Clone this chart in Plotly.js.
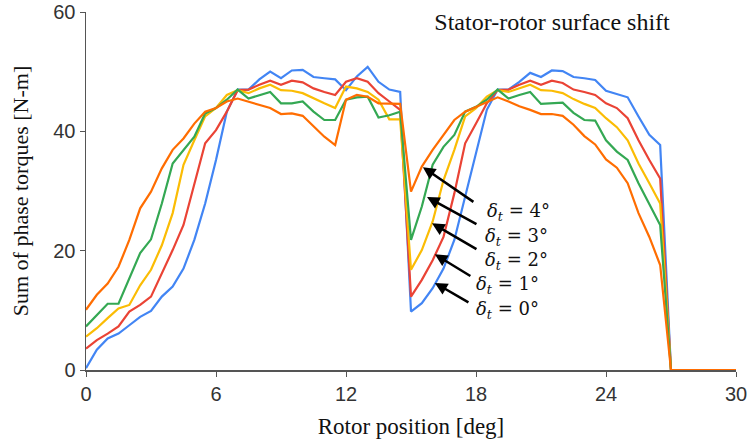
<!DOCTYPE html>
<html><head><meta charset="utf-8">
<script src="https://cdn.plot.ly/plotly-3.0.1.min.js"></script>
<style>body{margin:0;background:#fff}#c{width:751px;height:447px}</style>
</head><body><div id="c"></div>
<script>
const rotorPos = [0,0.5,1,1.5,2,2.5,3,3.5,4,4.5,5,5.5,6,6.5,7,7.5,8,8.5,9,9.5,10,10.5,11,11.5,12,12.5,13,13.5,14,14.5,15,15.5,16,16.5,17,17.5,18,18.5,19,19.5,20,20.5,21,21.5,22,22.5,23,23.5,24,24.5,25,25.5,26,26.5,27,27.5,28,28.5,29,29.5,30];
const torque0 = [0.3,3.4,5.3,6.1,7.5,8.9,9.9,12.3,14.0,17.0,21.8,27.9,35.2,43.3,47.0,47.0,48.7,50.0,48.9,50.2,50.3,49.1,48.9,48.7,46.9,49.2,50.8,48.3,47.0,46.6,9.8,11.2,13.7,17.0,21.8,29.1,36.3,43.6,47.0,47.0,48.3,49.8,49.1,50.2,50.1,49.1,48.9,48.6,46.8,46.3,45.7,42.5,39.4,37.7,0,0,0,0,0,0,0];
const torque1 = [3.6,5.0,6.1,7.3,9.8,10.9,12.3,16.2,20.1,24.3,31.3,38.0,40.2,43.3,46.9,47.0,47.8,48.5,47.8,48.5,48.2,47.2,46.6,46.1,48.3,48.9,48.3,46.4,45.0,43.6,12.3,15.1,18.4,22.3,29.6,38.0,41.3,44.7,46.9,47.0,47.8,48.5,47.8,48.5,48.1,47.0,46.6,46.1,44.7,43.9,42.2,38.5,35.2,32.1,0,0,0,0,0,0,0];
const torque2 = [5.6,7.0,8.7,10.3,10.9,14.2,16.8,20.9,26.3,34.4,38.5,42.5,43.9,46.1,46.9,46.4,47.2,47.8,46.9,46.8,46.4,45.5,44.7,43.9,47.5,47.2,46.6,45.3,42.0,42.0,16.8,20.1,24.9,31.8,36.9,42.5,43.9,45.8,46.9,46.6,47.2,47.8,46.9,46.8,46.4,45.4,44.6,43.9,42.2,40.7,38.5,34.6,31.3,27.9,0,0,0,0,0,0,0];
const torque3 = [7.3,9.2,11.1,11.1,15.4,19.6,21.9,27.9,34.6,36.9,39.1,43.0,43.9,45.3,47.0,45.5,46.0,46.6,44.7,44.7,45.0,43.3,41.9,41.9,45.3,45.7,45.8,42.3,42.7,43.3,21.8,27.4,34.4,37.4,39.4,43.3,44.1,45.3,47.0,45.5,46.1,46.6,44.6,44.7,44.8,43.1,41.9,41.8,38.5,36.6,35.2,31.3,27.9,24.3,0,0,0,0,0,0,0];
const torque4 = [10.1,12.6,14.5,17.3,21.8,27.1,29.9,33.8,36.9,38.8,41.3,43.3,43.9,45.0,45.5,45.0,44.4,43.9,42.9,43.0,42.6,40.8,39.1,37.7,45.3,46.1,45.8,44.7,44.6,44.6,29.9,34.1,36.9,39.4,41.9,43.3,44.1,45.0,45.7,45.0,44.2,43.6,42.9,42.9,42.6,41.1,39.2,37.8,35.3,33.9,31.3,26.3,22.3,17.6,0,0,0,0,0,0,0];
const seriesNames = ['δt = 0°','δt = 1°','δt = 2°','δt = 3°','δt = 4°'];
const xTicks = [0,6,12,18,24,30];
const yTicks = [0,20,40,60];

const colors = ['#4285F4','#EA4335','#FBBC04','#34A853','#FF6D01'];
const series = [torque0,torque1,torque2,torque3,torque4];
const traces = series.map((s,i)=>({x:rotorPos,y:s,type:'scatter',mode:'lines',name:seriesNames[i],
  line:{color:colors[i],width:2.2},hoverinfo:'skip'}));

const serif = 'Liberation Serif, Times New Roman, serif';
const labelDefs = [
  {lbl:'4', tx:18.4, ty:26.5, hx:15.55, hy:34.0, sx:17.95, sy:28.0},
  {lbl:'3', tx:18.3, ty:22.3, hx:15.74, hy:29.0, sx:18.09, sy:24.3},
  {lbl:'2', tx:18.3, ty:18.2, hx:15.97, hy:24.6, sx:18.09, sy:20.1},
  {lbl:'1', tx:17.9, ty:14.2, hx:16.10, hy:19.4, sx:17.81, sy:15.6},
  {lbl:'0', tx:17.9, ty:10.1, hx:16.10, hy:14.6, sx:17.72, sy:11.2}
];
const annotations = [];
labelDefs.forEach(d=>{
  annotations.push({x:d.hx,y:d.hy,xref:'x',yref:'y',ax:d.sx,ay:d.sy,axref:'x',ayref:'y',
    showarrow:true,arrowhead:2,arrowsize:1,arrowwidth:2.5,arrowcolor:'#000',text:''});
  annotations.push({x:d.tx,y:d.ty,xref:'x',yref:'y',showarrow:false,xanchor:'left',yanchor:'middle',
    text:'<i>δ</i><sub><i>t</i></sub> = '+d.lbl+'°',font:{family:'DejaVu Serif, serif',size:18,color:'#111'}});
});

const layout = {
  width:751,height:447,
  margin:{l:86,r:15,t:12,b:77},
  paper_bgcolor:'#fff',plot_bgcolor:'#fff',
  showlegend:false,
  title:{text:'Stator-rotor surface shift',x:0.717,xref:'paper',xanchor:'center',y:0.951,yanchor:'middle',
    font:{family:serif,size:24,color:'#111'}},
  xaxis:{range:[0,30],tickvals:xTicks,ticktext:xTicks.map(String),showgrid:false,zeroline:false,
    showline:true,linecolor:'#555',linewidth:1.5,ticks:'outside',ticklen:5,tickcolor:'#555',
    tickfont:{family:'Liberation Sans, Arial, sans-serif',size:20,color:'#333'},
    title:{text:'Rotor position [deg]',font:{family:serif,size:23,color:'#111'},standoff:14}},
  yaxis:{range:[0,60],tickvals:yTicks,ticktext:yTicks.map(String),showgrid:false,zeroline:false,
    showline:true,linecolor:'#555',linewidth:1.5,ticks:'outside',ticklen:5,tickcolor:'#555',
    tickfont:{family:'Liberation Sans, Arial, sans-serif',size:20,color:'#333'},
    title:{text:'Sum of phase torques [N-m]',font:{family:serif,size:22,color:'#111'},standoff:18}},
  annotations:annotations
};
Plotly.newPlot('c',traces,layout,{displayModeBar:false,staticPlot:true});
</script></body></html>
